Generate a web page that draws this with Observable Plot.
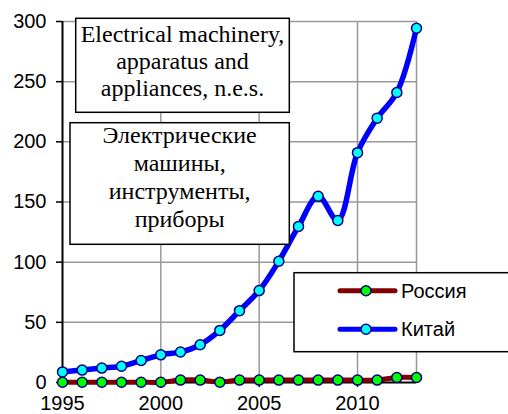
<!DOCTYPE html>
<html><head><meta charset="utf-8">
<script src="https://cdn.jsdelivr.net/npm/d3@7"></script>
<script src="https://cdn.jsdelivr.net/npm/@observablehq/plot@0.6"></script>
<style>
html,body{margin:0;padding:0;background:#fff;}
#wrap{position:relative;width:508px;height:414px;overflow:hidden;}
#wrap svg{position:absolute;left:0;top:0;}
</style></head><body>
<div id="wrap"></div>
<script>
const years = [1995,1996,1997,1998,1999,2000,2001,2002,2003,2004,2005,2006,2007,2008,2009,2010,2011,2012,2013];
const russia = [0.2,0.2,0.2,0.2,0.2,0.2,2,2,0.3,2,2,2,2,2,2,2,2,4.2,4.2];
const china = [8.8,10.3,12,13.5,18.3,23,25.3,31.4,43.3,59.7,76.4,100.8,129.7,154.7,134.7,191,219.7,241,294.4];
const seriesNames = ["Россия","Китай"];
const lineColors = ["#800000","#0000ff"];
const dotColors = ["#00ff00","#00ffff"];
const yTicks = [0,50,100,150,200,250,300];
const xTicks = [1995,2000,2005,2010];
const xGrid = [2000,2005,2010,2013];
const boxEn = ["Electrical machinery,","apparatus and","appliances, n.e.s."];
const boxRu = ["Электрические","машины,","инструменты,","приборы"];

const rows = years.flatMap((yr,i)=>[
  {year:yr, value:russia[i], series:seriesNames[0]},
  {year:yr, value:china[i], series:seriesNames[1]}
]);
const ru = rows.filter(d=>d.series===seriesNames[0]);
const cn = rows.filter(d=>d.series===seriesNames[1]);

const chart = Plot.plot({
  width:508, height:414,
  marginLeft:62, marginRight:92, marginTop:21, marginBottom:32,
  style:{fontFamily:'"Liberation Sans", Arial, sans-serif', fontSize:"20px", background:"transparent", color:"#000"},
  x:{domain:[1995,2013]},
  y:{domain:[0,300]},
  marks:[
    Plot.gridY(yTicks.slice(1), {stroke:"#999", strokeOpacity:1, strokeWidth:1.5}),
    Plot.gridX(xGrid, {stroke:"#999", strokeOpacity:1, strokeWidth:1.5}),
    Plot.axisY(yTicks, {tickSize:6, tickPadding:10, label:null, tickFormat:d=>String(d), fontSize:20, strokeWidth:1.5}),
    Plot.axisX(xTicks, {tickSize:5, tickPadding:8, label:null, tickFormat:d=>String(d), fontSize:20, strokeWidth:1.5}),
    Plot.ruleX([1995], {stroke:"#000", strokeWidth:2}),
    Plot.ruleY([0], {stroke:"#000", strokeWidth:2}),
    Plot.line(ru, {x:"year", y:"value", stroke:lineColors[0], strokeWidth:5, curve:"catmull-rom"}),
    Plot.dot(ru, {x:"year", y:"value", r:5, fill:dotColors[0], stroke:"#000080", strokeWidth:1.5}),
    Plot.line(cn, {x:"year", y:"value", stroke:lineColors[1], strokeWidth:5.5, curve:"catmull-rom"}),
    Plot.dot(cn, {x:"year", y:"value", r:5, fill:dotColors[1], stroke:"#000080", strokeWidth:1.5})
  ]
});
const wrap = document.getElementById("wrap");
wrap.appendChild(chart);

// overlay: annotation boxes and legend
const ov = d3.select(wrap).append("svg").attr("width",508).attr("height",414);

function textBox(x0,y0,x1,y1,lines,base0,step){
  ov.append("rect").attr("x",x0).attr("y",y0).attr("width",x1-x0).attr("height",y1-y0)
    .attr("fill","#fff").attr("stroke","#000").attr("stroke-width",1.5);
  lines.forEach((t,i)=>{
    ov.append("text").attr("x",(x0+x1)/2).attr("y",base0+i*step)
      .attr("text-anchor","middle")
      .attr("font-family","Liberation Serif")
      .attr("font-size",24).attr("fill","#000").text(t);
  });
}
textBox(75.7,18.3,289.3,112.3,boxEn,42.3,27);
textBox(70,122.7,289.3,244.3,boxRu,143.3,27.8);

// legend
ov.append("rect").attr("x",294).attr("y",272.7).attr("width",230).attr("height",79)
  .attr("fill","#fff").attr("stroke","#000").attr("stroke-width",1.5);
seriesNames.forEach((name,i)=>{
  const cy = 290.7 + i*38.5;
  ov.append("line").attr("x1",340).attr("x2",395).attr("y1",cy).attr("y2",cy)
    .attr("stroke",lineColors[i]).attr("stroke-width",5).attr("stroke-linecap","round");
  ov.append("circle").attr("cx",366).attr("cy",cy).attr("r",5)
    .attr("fill",dotColors[i]).attr("stroke","#000080").attr("stroke-width",1.5);
  ov.append("text").attr("x",401).attr("y",cy).attr("dy","0.36em")
    .attr("font-family","Liberation Sans")
    .attr("font-size",20).attr("fill","#000").text(name);
});
</script>
</body></html>
